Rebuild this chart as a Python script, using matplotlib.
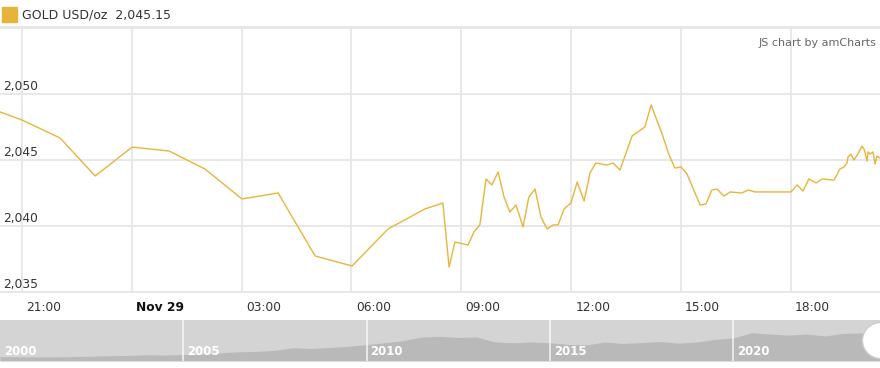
import matplotlib
matplotlib.use('Agg')
import matplotlib.pyplot as plt
from matplotlib.transforms import blended_transform_factory

# hours since Nov 28 00:00 and gold price (USD/oz)
hours = [20.40, 21.00, 22.04, 23.00, 24.01, 25.02, 26.00, 27.01, 28.00, 29.01,
         30.02, 31.00, 32.01, 32.50, 32.67, 32.83, 33.19, 33.35, 33.51, 33.68,
         33.84, 34.01, 34.17, 34.33, 34.50, 34.69, 34.85, 35.02, 35.18, 35.35,
         35.51, 35.65, 35.81, 36.00, 36.17, 36.36, 36.52, 36.68, 36.98, 37.15,
         37.34, 37.67, 38.02, 38.19, 38.49, 38.68, 38.84, 39.01, 39.17, 39.53,
         39.69, 39.85, 39.99, 40.18, 40.35, 40.67, 40.84, 41.03, 42.01, 42.18,
         42.34, 42.50, 42.70, 42.86, 43.19, 43.35, 43.46, 43.54, 43.57, 43.65,
         43.73, 43.84, 43.95, 44.01, 44.09, 44.12, 44.17, 44.25, 44.31, 44.36,
         44.44]
prices = [2048.64, 2048.03, 2046.67, 2043.79, 2045.98, 2045.68, 2044.32, 2042.05, 2042.50, 2037.73,
          2036.97, 2039.77, 2041.29, 2041.74, 2036.89, 2038.79, 2038.56, 2039.55, 2040.08, 2043.56,
          2043.11, 2044.09, 2042.20, 2041.06, 2041.59, 2039.92, 2042.20, 2042.80, 2040.68, 2039.77,
          2040.08, 2040.08, 2041.29, 2041.74, 2043.33, 2041.89, 2044.02, 2044.77, 2044.62, 2044.77,
          2044.24, 2046.82, 2047.50, 2049.17, 2046.97, 2045.38, 2044.39, 2044.47, 2043.94, 2041.59,
          2041.67, 2042.73, 2042.80, 2042.27, 2042.58, 2042.50, 2042.73, 2042.58, 2042.58, 2043.11,
          2042.65, 2043.56, 2043.26, 2043.56, 2043.48, 2044.32, 2044.47, 2044.77, 2045.23, 2045.45,
          2045.00, 2045.45, 2046.06, 2045.83, 2044.92, 2045.61, 2045.45, 2045.61, 2044.70, 2045.30,
          2045.15]

tick_hours = [21, 24, 27, 30, 33, 36, 39, 42]
tick_labels = ['21:00', 'Nov 29', '03:00', '06:00', '09:00', '12:00', '15:00', '18:00']
y_ticks = [2035, 2040, 2045, 2050, 2055]
y_labels = ['2,035', '2,040', '2,045', '2,050', '']

# half-yearly gold price for the scrollbar overview
years = [2000, 2000.5, 2001, 2001.5, 2002, 2002.5, 2003, 2003.5, 2004, 2004.5,
         2005, 2005.5, 2006, 2006.5, 2007, 2007.5, 2008, 2008.5, 2009, 2009.5,
         2010, 2010.5, 2011, 2011.5, 2012, 2012.5, 2013, 2013.5, 2014, 2014.5,
         2015, 2015.5, 2016, 2016.5, 2017, 2017.5, 2018, 2018.5, 2019, 2019.5,
         2020, 2020.5, 2021, 2021.5, 2022, 2022.5, 2023, 2023.5, 2024]
yearly_price = [285, 275, 265, 270, 280, 315, 350, 365, 410, 400,
                430, 440, 550, 620, 650, 720, 900, 850, 920, 1000,
                1120, 1250, 1400, 1650, 1690, 1620, 1650, 1300, 1250, 1300,
                1250, 1130, 1100, 1300, 1200, 1260, 1330, 1220, 1300, 1480,
                1580, 1950, 1850, 1780, 1850, 1720, 1900, 1930, 2040]
year_labels = [2000, 2005, 2010, 2015, 2020]

gold = '#e8b43c'
grid_c = '#e6e6e6'
text_c = '#333333'

fig = plt.figure(figsize=(8.8, 3.68), dpi=100)

# main chart
ax = fig.add_axes([0, 76 / 368, 1, 265 / 368])
ax.plot(hours, prices, color=gold, lw=1.0)
ax.set_xlim(20.40, 20.40 + 880 / 36.6)
ax.set_ylim(2035, 2035 + 265 / 13.2)
ax.set_xticks(tick_hours)
ax.set_yticks(y_ticks)
ax.tick_params(length=0, labelbottom=False, labelleft=False)
ax.grid(True, color=grid_c, lw=1.3)
for s in ['left', 'right']:
    ax.spines[s].set_visible(False)
ax.spines['top'].set_color(grid_c)
ax.spines['bottom'].set_color(grid_c)
ax.spines['top'].set_linewidth(1.3)
ax.spines['bottom'].set_linewidth(1.3)
ax.set_axisbelow(True)

# y labels sit inside the plot just above their gridlines
ytr = blended_transform_factory(ax.transAxes, ax.transData)
for v, lab in zip(y_ticks, y_labels):
    ax.text(0.004, v + 0.07, lab, transform=ytr, ha='left', va='bottom',
            fontsize=8.8, color=text_c)

# x labels just to the right of the gridlines
xtr = blended_transform_factory(ax.transData, ax.transAxes)
for h, lab in zip(tick_hours, tick_labels):
    ax.text(h + 0.12, -0.057, lab, transform=xtr, ha='left', va='center',
            fontsize=8.8, color='#111111' if lab.startswith('Nov') else text_c,
            fontweight='bold' if lab.startswith('Nov') else 'normal')

ax.text(0.996, 0.94, 'JS chart by amCharts', transform=ax.transAxes, ha='right',
        va='center', fontsize=8, color='#666666')

# legend
fig.patches.append(plt.Rectangle((2 / 880, 1 - 22 / 368), 15 / 880, 15 / 368,
                                 transform=fig.transFigure, color='#e6b43a'))
fig.text(22 / 880, 1 - 14.5 / 368, 'GOLD USD/oz  2,045.15', ha='left', va='center',
         fontsize=9, color=text_c)

# scrollbar
sb = fig.add_axes([0, 7 / 368, 1, 41 / 368])
sb.set_facecolor('#d4d4d4')
sb.fill_between(years, yearly_price, -20, color='#b9b9b9', lw=0)
sb.set_xlim(2000, 2024)
sb.set_ylim(-20, 2830)
sb.set_xticks([])
sb.set_yticks([])
for s in sb.spines.values():
    s.set_visible(False)
for yr in year_labels:
    if yr > 2000:
        sb.axvline(yr, color='white', lw=1.2, alpha=0.8)
    sb.text(yr + 0.1, 0.22, str(yr), transform=blended_transform_factory(sb.transData, sb.transAxes),
            ha='left', va='center', fontsize=8.5, color='white', fontweight='bold')
sb.plot([1.0], [0.52], transform=sb.transAxes, marker='o', ms=26, mfc='white',
        mec='#cccccc', mew=1, clip_on=False)

fig.savefig('out.png', dpi=100)
